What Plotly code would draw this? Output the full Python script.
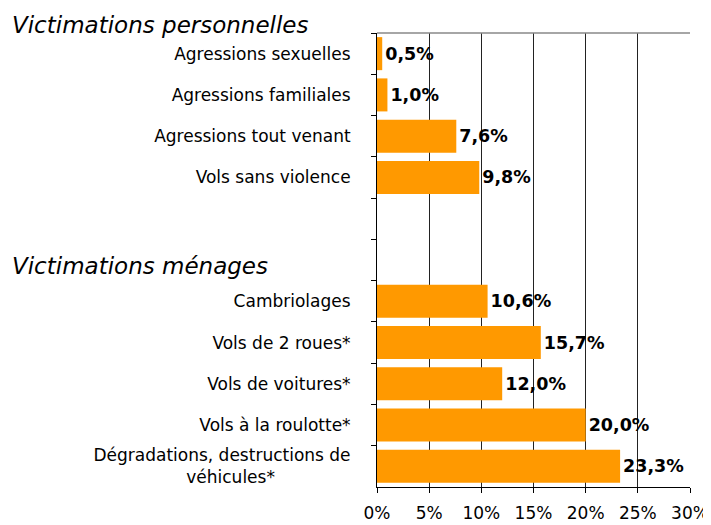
import plotly.graph_objects as go

categories = [
    "Agressions sexuelles",
    "Agressions familiales",
    "Agressions tout venant",
    "Vols sans violence",
    "\u00a0",
    "\u00a0\u00a0",
    "Cambriolages",
    "Vols de 2 roues*",
    "Vols de voitures*",
    "Vols à la roulotte*",
    "Dégradations, destructions de<br>véhicules*" + "\u00a0" * 14,
]
values = [0.5, 1.0, 7.6, 9.8, None, None, 10.6, 15.7, 12.0, 20.0, 23.3]
group_titles = ["Victimations personnelles", "Victimations ménages"]
x_ticks = [0, 5, 10, 15, 20, 25, 30]
x_tick_labels = ["0%", "5%", "10%", "15%", "20%", "25%", "30%"]

labels = [("" if v is None else f"{v:.1f}%".replace(".", ",")) for v in values]

FONT = "DejaVu Sans"

# page body has an 8px margin, so figure coordinates are screen coordinates minus 8
OFF = 8
W, H = 711, 525
L, R, T, B = 377 - OFF, 690 - OFF, 33 - OFF, 487 - OFF
PW, PH = R - L, B - T


def px_x(x):
    return (x - OFF - L) / PW


def px_y(y):
    return (B - (y - OFF)) / PH


fig = go.Figure(
    go.Bar(
        y=categories,
        x=values,
        orientation="h",
        marker=dict(color="#FF9900", line=dict(width=0)),
        text=labels,
        textposition="outside",
        textfont=dict(family=FONT, size=17.5, color="black", weight="bold"),
        cliponaxis=False,
        width=0.8,
    )
)

fig.update_layout(
    width=W,
    height=H,
    margin=dict(l=L, r=W - R, t=T, b=H - B, autoexpand=False),
    paper_bgcolor="white",
    plot_bgcolor="white",
    showlegend=False,
    font=dict(family=FONT, color="black"),
    xaxis=dict(
        range=[0, 30],
        tickmode="array",
        tickvals=x_ticks,
        ticktext=x_tick_labels,
        showgrid=True,
        gridcolor="#222222",
        gridwidth=1,
        showline=True,
        linecolor="black",
        linewidth=1,
        ticks="outside",
        ticklen=5,
        tickcolor="black",
        tickfont=dict(family=FONT, size=17, color="black"),
        ticklabelstandoff=6,
        zeroline=False,
        automargin=False,
    ),
    yaxis=dict(
        categoryorder="array",
        categoryarray=categories,
        autorange="reversed",
        tickson="boundaries",
        ticks="outside",
        ticklen=5,
        tickcolor="black",
        showline=True,
        linecolor="black",
        linewidth=1,
        showgrid=False,
        tickfont=dict(family=FONT, size=17, color="black"),
        ticklabelstandoff=22,
        automargin=False,
    ),
    annotations=[
        dict(
            text=group_titles[0],
            xref="paper", yref="paper",
            x=px_x(10), y=px_y(25),
            xanchor="left", yanchor="middle",
            showarrow=False,
            font=dict(family=FONT, size=23, style="italic", color="black"),
        ),
        dict(
            text=group_titles[1],
            xref="paper", yref="paper",
            x=px_x(10), y=px_y(266),
            xanchor="left", yanchor="middle",
            showarrow=False,
            font=dict(family=FONT, size=23, style="italic", color="black"),
        ),
    ],
    shapes=[
        dict(
            type="line", xref="paper", yref="paper",
            x0=0, x1=1, y0=1, y1=1,
            line=dict(color="#888888", width=1.5),
        )
    ],
)

fig.write_html("out.html")
